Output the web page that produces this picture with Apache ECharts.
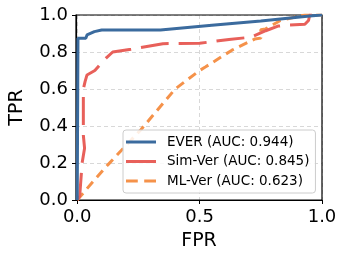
<!DOCTYPE html>
<html><head><meta charset="utf-8">
<script src="https://cdn.jsdelivr.net/npm/echarts@6/dist/echarts.min.js"></script>
<style>html,body{margin:0;padding:0;background:#fff}#c{width:346px;height:259px}</style>
</head><body><div id="c"></div>
<script>
const seriesNames = ['EVER (AUC: 0.944)', 'Sim-Ver (AUC: 0.845)', 'ML-Ver (AUC: 0.623)'];
const everFPR = [0, 0.003, 0.003, 0.035, 0.04, 0.07, 0.1, 0.34, 0.55, 0.75, 0.95, 1.0];
const everTPR = [0, 0, 0.874, 0.874, 0.892, 0.91, 0.919, 0.919, 0.944, 0.968, 0.995, 1.0];
const simFPR = [0, 0.01, 0.02, 0.03, 0.025, 0.025, 0.032, 0.04, 0.072, 0.092, 0.12, 0.145, 0.22, 0.35, 0.5, 0.62, 0.71, 0.77, 0.82, 0.865, 0.93, 0.945, 0.95, 1.0];
const simTPR = [0, 0.02, 0.2, 0.28, 0.35, 0.6, 0.64, 0.676, 0.70, 0.73, 0.77, 0.80, 0.815, 0.845, 0.847, 0.868, 0.88, 0.915, 0.94, 0.946, 0.95, 0.97, 1.0, 1.0];
const mlFPR = [0, 0.065, 0.125, 0.26, 0.4, 0.5, 0.525, 0.632, 0.725, 0.75, 0.75, 0.77, 0.83, 0.91, 0.93, 1.0];
const mlTPR = [0, 0.1, 0.19, 0.38, 0.6, 0.70, 0.72, 0.81, 0.87, 0.875, 0.92, 0.925, 0.97, 0.995, 1.0, 1.0];
const xTicks = [0, 0.5, 1.0];
const yTicks = [0, 0.2, 0.4, 0.6, 0.8, 1.0];

const zip = (a, b) => a.map((v, i) => [v, b[i]]);
const font = 'DejaVu Sans';
const colors = ['#3b6b9e', '#e8605a', '#f5924a'];
const solidIcon = 'path://M0,0h30v3h-30z';
const dashIcon = 'path://M0,0h11v3h-11z M17,0h11v3h-11z';
const chart = echarts.init(document.getElementById('c'), null, {renderer: 'canvas'});
const frameAxis = {show: true, onZero: false, lineStyle: {color: '#000', width: 1.2}};
chart.setOption({
  animation: false,
  grid: {left: 71, right: 24, top: 15, bottom: 59, show: true, z: 1,
    borderColor: '#000', borderWidth: 1.2, backgroundColor: 'transparent'},
  xAxis: {
    type: 'value', min: -0.005, max: 1.0, z: 0,
    name: 'FPR', nameLocation: 'middle', nameGap: 32,
    nameTextStyle: {fontFamily: font, fontSize: 19, color: '#000'},
    axisLine: frameAxis,
    axisTick: {show: true, length: 4, lineStyle: {color: '#000'}, customValues: xTicks},
    axisLabel: {fontFamily: font, fontSize: 18, color: '#000', margin: 8, customValues: xTicks,
      formatter: v => v.toFixed(1)},
    splitLine: {show: true, lineStyle: {color: '#d8d8d8', type: [4, 3], width: 1}}
  },
  yAxis: {
    type: 'value', min: 0, max: 1.0, interval: 0.2, z: 0,
    name: 'TPR', nameLocation: 'middle', nameGap: 49, nameRotate: 90,
    nameTextStyle: {fontFamily: font, fontSize: 19, color: '#000'},
    axisLine: frameAxis,
    axisTick: {show: true, length: 4, lineStyle: {color: '#000'}},
    axisLabel: {fontFamily: font, fontSize: 18, color: '#000', margin: 8,
      formatter: v => v.toFixed(1)},
    splitLine: {show: true, lineStyle: {color: '#d8d8d8', type: [4, 3], width: 1}}
  },
  legend: {
    orient: 'vertical', left: 123, top: 130, z: 5,
    padding: [5, 6, 5, 3], itemWidth: 30, itemHeight: 14, itemGap: 5.5,
    backgroundColor: 'rgba(255,255,255,0.85)', borderColor: '#cccccc', borderWidth: 1, borderRadius: 3,
    textStyle: {fontFamily: font, fontSize: 13.5, color: '#000', padding: [0, 0, 0, 6]},
    data: [
      {name: seriesNames[0], icon: solidIcon},
      {name: seriesNames[1], icon: solidIcon},
      {name: seriesNames[2], icon: dashIcon}
    ]
  },
  series: [
    {name: seriesNames[0], type: 'line', data: zip(everFPR, everTPR), showSymbol: false, symbol: 'none',
      lineStyle: {color: colors[0], width: 3}, itemStyle: {color: colors[0]}, z: 4},
    {name: seriesNames[1], type: 'line', data: zip(simFPR, simTPR), showSymbol: false, symbol: 'none',
      lineStyle: {color: colors[1], width: 3, type: [28, 10]}, itemStyle: {color: colors[1]}, z: 3},
    {name: seriesNames[2], type: 'line', data: zip(mlFPR, mlTPR), showSymbol: false, symbol: 'none',
      lineStyle: {color: colors[2], width: 3, type: [9, 6]}, itemStyle: {color: colors[2]}, z: 2}
  ]
});
</script></body></html>
